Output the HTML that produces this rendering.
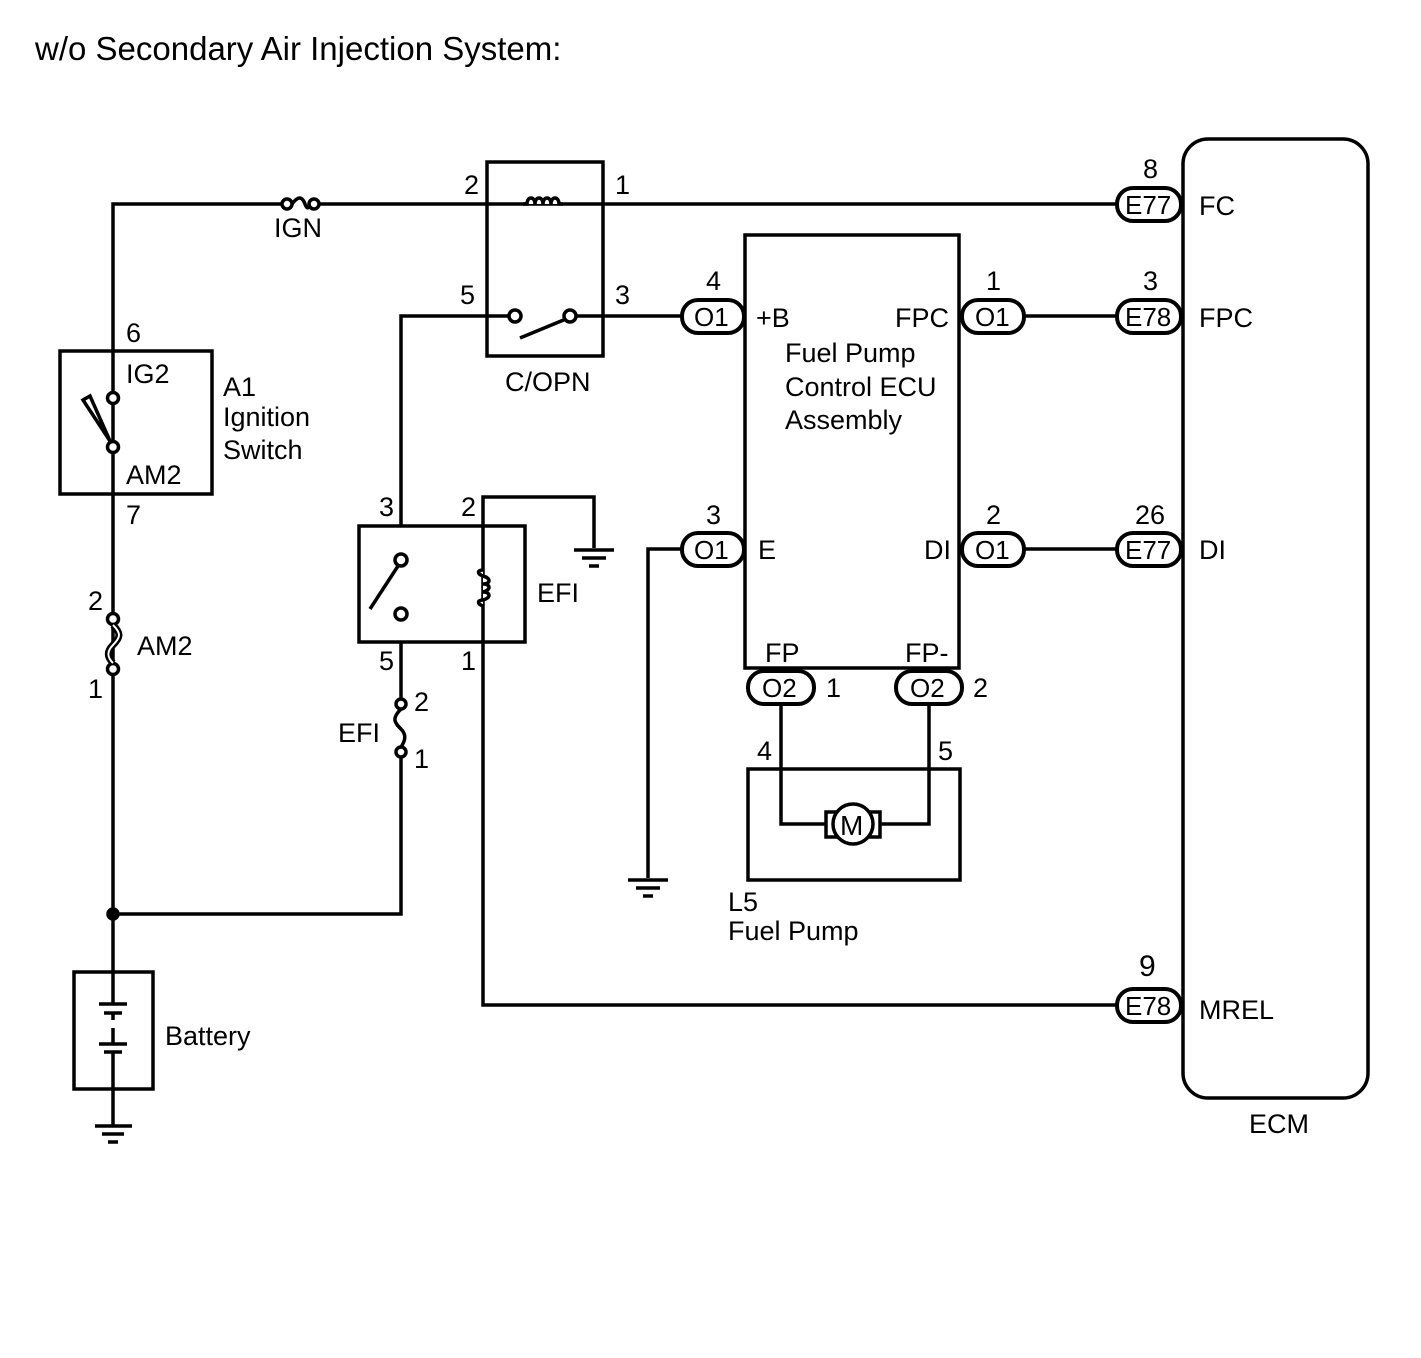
<!DOCTYPE html>
<html><head><meta charset="utf-8"><style>
html,body{margin:0;padding:0;background:#fff}
svg{display:block}
text{font-family:"Liberation Sans",sans-serif;font-size:27px;fill:#000}
.p{font-size:26px}
</style></head><body>
<svg width="1421" height="1358" viewBox="0 0 1421 1358" xmlns="http://www.w3.org/2000/svg">
<g fill="none" stroke="#000" stroke-width="3.5">
<polyline points="113,914 113,204 282,204"/>
<line x1="317" y1="204" x2="1117" y2="204"/>
<circle cx="287" cy="204" r="5" fill="#fff"/><circle cx="314" cy="204" r="5" fill="#fff"/>
<path d="M292,204 C298,196 302,196 305,204 C307,210 310,208 309,204"/>
<rect x="487" y="162" width="116" height="194"/>
<path d="M523,204 h4 c0,-8 8,-8 8,0 c0,-8 8,-8 8,0 c0,-8 8,-8 8,0 c0,-8 8,-8 8,0 h4" fill="#fff"/>
<polyline points="401,526 401,316 510,316"/>
<line x1="575" y1="316" x2="682" y2="316"/>
<circle cx="515" cy="316" r="6" fill="#fff"/><circle cx="570" cy="316" r="6" fill="#fff"/>
<line x1="520" y1="338" x2="566" y2="319"/>
<rect x="60" y="351" width="152" height="143"/>
<circle cx="113" cy="398" r="5.5" fill="#fff"/><circle cx="113" cy="447" r="5.5" fill="#fff"/>
<path d="M110,441 L83,400 L90,396 Z" fill="#fff"/>
<circle cx="113" cy="619" r="5.5" fill="#fff"/><circle cx="113" cy="669" r="5.5" fill="#fff"/>
<path d="M113,625 c8,8 8,12 0,20 c-8,8 -4,14 0,18" stroke-width="7"/>
<path d="M113,625 c8,8 8,12 0,20 c-8,8 -4,14 0,18" stroke="#fff" stroke-width="2"/>
<circle cx="113" cy="914" r="5" fill="#000"/>
<polyline points="113,914 401,914 401,756"/>
<circle cx="401" cy="704" r="5" fill="#fff"/><circle cx="401" cy="752" r="5" fill="#fff"/>
<path d="M401,709 c-10,10 -6,14 0,20 c6,6 4,12 0,18"/>
<line x1="401" y1="642" x2="401" y2="699"/>
<rect x="359" y="526" width="166" height="116"/>
<circle cx="401" cy="560" r="6" fill="#fff"/><circle cx="401" cy="614" r="6" fill="#fff"/>
<line x1="398" y1="566" x2="370" y2="609"/>
<polyline points="594,548 594,497 483,497 483,1005 1117,1005"/>
<path d="M483,570 c-6,0 -6,4 0,6 c8,2 8,8 0,8 c8,0 8,6 0,8 c8,0 8,6 0,8 c-6,0 -6,4 0,6" fill="#fff"/>
<line x1="574" y1="550" x2="614" y2="550"/><line x1="582" y1="558" x2="606" y2="558"/><line x1="589" y1="566" x2="599" y2="566"/>
<rect x="745" y="235" width="214" height="433"/>
<line x1="1025" y1="316" x2="1117" y2="316"/>
<line x1="1025" y1="549" x2="1117" y2="549"/>
<polyline points="682,549 648,549 648,878"/>
<line x1="628" y1="880" x2="668" y2="880"/><line x1="636" y1="888" x2="660" y2="888"/><line x1="643" y1="896" x2="653" y2="896"/>
<rect x="748" y="769" width="212" height="111"/>
<polyline points="781,704 781,824 828,824"/>
<polyline points="929,704 929,824 880,824"/>
<rect x="826" y="812" width="54" height="25" fill="#fff"/>
<circle cx="853" cy="824" r="20" fill="#fff"/>
<rect x="74" y="972" width="79" height="117"/>
<line x1="113" y1="914" x2="113" y2="1005"/>
<line x1="99" y1="1004" x2="127" y2="1004"/><line x1="104" y1="1013" x2="122" y2="1013"/>
<line x1="113" y1="1013" x2="113" y2="1020"/><line x1="113" y1="1028" x2="113" y2="1035"/>
<line x1="113" y1="1035" x2="113" y2="1043"/>
<line x1="99" y1="1044" x2="127" y2="1044"/><line x1="104" y1="1052" x2="122" y2="1052"/>
<line x1="113" y1="1052" x2="113" y2="1125"/>
<line x1="95" y1="1126" x2="132" y2="1126"/><line x1="102" y1="1134" x2="124" y2="1134"/><line x1="108" y1="1142" x2="118" y2="1142"/>
<rect x="1183" y="139" width="185" height="959" rx="25"/>
<g fill="#fff" stroke-width="4">
<rect x="682" y="300" width="62" height="33" rx="16"/>
<rect x="682" y="533" width="62" height="33" rx="16"/>
<rect x="962" y="300" width="62" height="33" rx="16"/>
<rect x="962" y="533" width="62" height="33" rx="16"/>
<rect x="748" y="671" width="66" height="33" rx="16"/>
<rect x="896" y="671" width="66" height="33" rx="16"/>
<rect x="1117" y="188" width="64" height="33" rx="16"/>
<rect x="1117" y="300" width="64" height="33" rx="16"/>
<rect x="1117" y="533" width="64" height="33" rx="16"/>
<rect x="1117" y="989" width="64" height="33" rx="16"/>
</g>
</g>
<text x="35" y="60" style="font-size:33px">w/o Secondary Air Injection System:</text>
<text x="274" y="237">IGN</text>
<text x="464" y="194">2</text><text x="615" y="194">1</text>
<text x="460" y="304">5</text><text x="615" y="304">3</text>
<text x="505" y="391">C/OPN</text>
<text x="126" y="342">6</text><text x="126" y="383">IG2</text>
<text x="126" y="484">AM2</text><text x="126" y="524">7</text>
<text x="223" y="396">A1</text><text x="223" y="426">Ignition</text><text x="223" y="459">Switch</text>
<text x="88" y="610">2</text><text x="137" y="655">AM2</text><text x="88" y="698">1</text>
<text x="379" y="516">3</text><text x="461" y="516">2</text>
<text x="537" y="602">EFI</text>
<text x="379" y="670">5</text><text x="461" y="670">1</text>
<text x="414" y="711">2</text><text x="338" y="742">EFI</text><text x="414" y="768">1</text>
<text x="165" y="1045">Battery</text>
<text x="706" y="290">4</text><text x="756" y="327">+B</text>
<text x="895" y="327">FPC</text><text x="986" y="290">1</text>
<text x="785" y="362">Fuel Pump</text><text x="785" y="396">Control ECU</text><text x="785" y="429">Assembly</text>
<text x="706" y="524">3</text><text x="758" y="559">E</text>
<text x="924" y="559">DI</text><text x="986" y="524">2</text>
<text x="765" y="662">FP</text><text x="905" y="662">FP-</text>
<text x="826" y="697">1</text><text x="973" y="697">2</text>
<text x="757" y="760">4</text><text x="938" y="760">5</text>
<text x="728" y="911">L5</text><text x="728" y="940">Fuel Pump</text>
<text x="840" y="835" style="font-size:28px">M</text>
<text class="p" x="694" y="326">O1</text><text class="p" x="694" y="559">O1</text>
<text class="p" x="975" y="326">O1</text><text class="p" x="975" y="559">O1</text>
<text class="p" x="762" y="697">O2</text><text class="p" x="910" y="697">O2</text>
<text class="p" x="1125" y="214">E77</text><text class="p" x="1125" y="326">E78</text>
<text class="p" x="1125" y="559">E77</text><text class="p" x="1125" y="1015">E78</text>
<text x="1143" y="178">8</text><text x="1143" y="290">3</text>
<text x="1135" y="524">26</text><text x="1139" y="976" style="font-size:30px">9</text>
<text x="1199" y="215">FC</text><text x="1199" y="327">FPC</text>
<text x="1199" y="559">DI</text><text x="1199" y="1019">MREL</text>
<text x="1249" y="1133">ECM</text>
</svg>
</body></html>
